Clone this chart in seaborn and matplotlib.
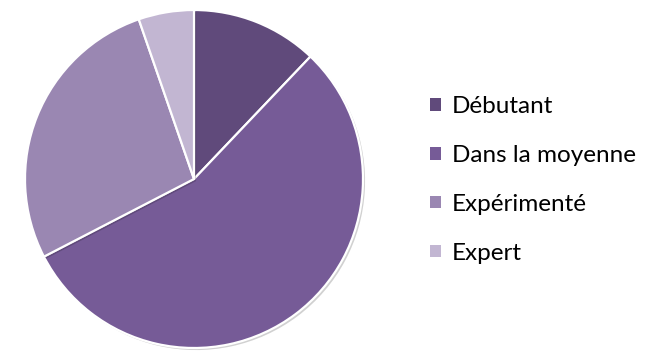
import matplotlib
matplotlib.use("Agg")
import matplotlib.pyplot as plt
import matplotlib.patheffects as pe
from matplotlib.patches import Patch
import seaborn as sns

# Répartition des niveaux (en %)
categories = ["Débutant", "Dans la moyenne", "Expérimenté", "Expert"]
values = [12.1, 55.3, 27.3, 5.3]
colors = ["#604a7b", "#765b97", "#9a87b2", "#c2b6d2"]

sns.set_theme(style="white")
plt.rcParams["font.family"] = ["Lato", "DejaVu Sans"]

fig = plt.figure(figsize=(6.54, 3.51), dpi=100)
fig.patch.set_facecolor("white")

# Camembert : centre vers (194, 179) px, rayon ~169 px
ax = fig.add_axes([25 / 654, 3 / 351, 338 / 654, 338 / 351])
wedges, _ = ax.pie(
    values,
    colors=colors,
    startangle=90,
    counterclock=False,
    radius=1.0,
    wedgeprops=dict(edgecolor="white", linewidth=1.6),
)
for w in wedges:
    w.set_path_effects([
        pe.SimplePatchShadow(offset=(1.5, -1.5), shadow_rgbFace="#000000", alpha=0.18),
        pe.Normal(),
    ])
ax.set_xlim(-1.0, 1.0)
ax.set_ylim(-1.0, 1.0)
ax.set_aspect("equal")
ax.axis("off")

handles = [Patch(facecolor=c, edgecolor="none") for c in colors]
fig.legend(
    handles,
    categories,
    loc="upper left",
    bbox_to_anchor=(428 / 654, 1 - 94 / 351),
    frameon=False,
    fontsize=17.5,
    handlelength=0.42,
    handleheight=0.42,
    handletextpad=0.45,
    labelspacing=1.14,
    borderaxespad=0,
    borderpad=0.1,
    labelcolor="#000000",
)

fig.savefig("out.png", dpi=100, facecolor="white")
